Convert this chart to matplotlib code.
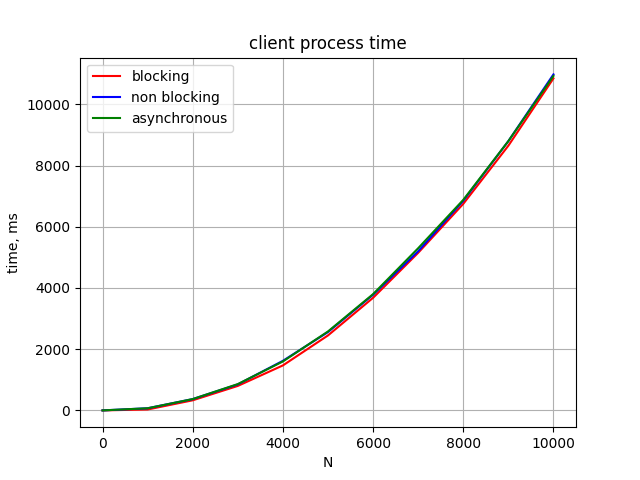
import matplotlib
matplotlib.use("Agg")
import matplotlib.pyplot as plt

N = [0, 1000, 2000, 3000, 4000, 5000, 6000, 7000, 8000, 9000, 10000]
blocking = [0, 30, 330, 800, 1470, 2450, 3680, 5150, 6750, 8650, 10850]
non_blocking = [0, 70, 370, 850, 1620, 2560, 3780, 5200, 6850, 8800, 10980]
asynchronous = [0, 70, 370, 860, 1600, 2580, 3800, 5300, 6880, 8800, 10930]

plt.figure(figsize=(6.4, 4.8), dpi=100)
plt.plot(N, blocking, color='red', label='blocking')
plt.plot(N, non_blocking, color='blue', label='non blocking')
plt.plot(N, asynchronous, color='green', label='asynchronous')
plt.title('client process time')
plt.xlabel('N')
plt.ylabel('time, ms')
plt.grid()
plt.legend()
plt.savefig('out.png')
